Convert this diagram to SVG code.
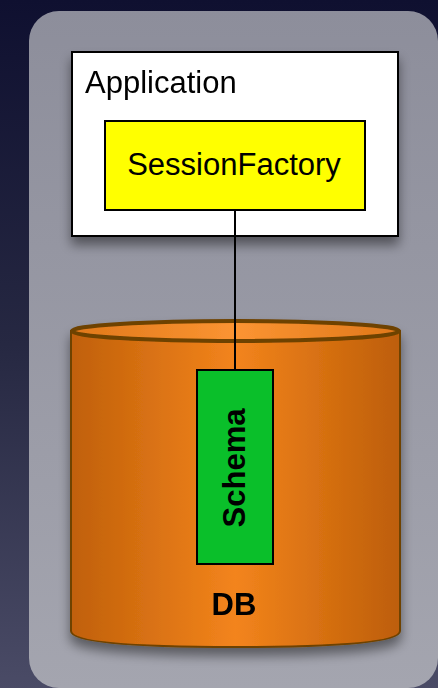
<svg xmlns="http://www.w3.org/2000/svg" width="438" height="688" viewBox="0 0 438 688">
  <defs>
    <linearGradient id="bg" x1="0" y1="0" x2="0" y2="1">
      <stop offset="0" stop-color="#0f1030"/>
      <stop offset="0.5" stop-color="#262842"/>
      <stop offset="1" stop-color="#4a4b66"/>
    </linearGradient>
    <linearGradient id="panel" x1="0" y1="0" x2="0" y2="1">
      <stop offset="0" stop-color="#8d8e9b"/>
      <stop offset="1" stop-color="#a4a5af"/>
    </linearGradient>
    <linearGradient id="drum" x1="0" y1="0" x2="1" y2="0">
      <stop offset="0" stop-color="#c0600a"/>
      <stop offset="0.5" stop-color="#f3841c"/>
      <stop offset="1" stop-color="#bd5e08"/>
    </linearGradient>
    <linearGradient id="lid" x1="0" y1="0" x2="1" y2="0">
      <stop offset="0" stop-color="#e0781a"/>
      <stop offset="0.5" stop-color="#fb9432"/>
      <stop offset="1" stop-color="#e0781a"/>
    </linearGradient>
    <filter id="shadow" x="-20%" y="-20%" width="140%" height="150%">
      <feGaussianBlur in="SourceAlpha" stdDeviation="6"/>
      <feOffset dx="0" dy="8" result="b"/>
      <feComponentTransfer><feFuncA type="linear" slope="0.45"/></feComponentTransfer>
      <feMerge><feMergeNode/><feMergeNode in="SourceGraphic"/></feMerge>
    </filter>
    <style>
      .box { stroke: #000; stroke-width: 2; }
      .lbl { font-family: "Liberation Sans", Arial, sans-serif; font-size: 31px; fill: #000; }
      .bold { font-weight: bold; }
    </style>
  </defs>

  <rect width="438" height="688" fill="url(#bg)"/>
  <rect x="29" y="11" width="409" height="677" rx="30" fill="url(#panel)"/>

  <g id="db" filter="url(#shadow)">
    <path d="M71 331 L71 631 Q71 647 235 647 Q400 647 400 631 L400 331 Z" fill="url(#drum)" stroke="#6e4200" stroke-width="2"/>
    <ellipse cx="235.5" cy="331" rx="163.5" ry="10" fill="url(#lid)" stroke="#6e4200" stroke-width="4"/>
    <text class="lbl bold" x="234" y="615" text-anchor="middle">DB</text>
  </g>

  <g id="application" filter="url(#shadow)">
    <rect class="box" x="72" y="52" width="326" height="184" fill="#fff"/>
    <text class="lbl" x="85" y="93">Application</text>
  </g>

  <g id="connectors">
    <line x1="235" y1="210" x2="235" y2="370" stroke="#000" stroke-width="2"/>
  </g>

  <g id="sessionfactory">
    <rect class="box" x="105" y="121" width="260" height="89" fill="#ffff00"/>
    <text class="lbl" x="234" y="175" text-anchor="middle">SessionFactory</text>
  </g>

  <g id="schema">
    <rect class="box" x="197" y="370" width="76" height="194" fill="#0abf2a"/>
    <text class="lbl bold" transform="translate(245 468) rotate(-90)" text-anchor="middle">Schema</text>
  </g>
</svg>
